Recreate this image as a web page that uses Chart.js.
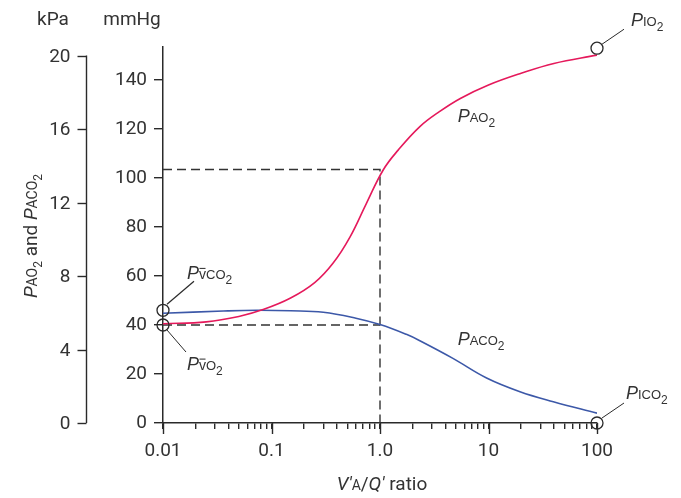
<!DOCTYPE html>
<html>
<head>
<meta charset="utf-8">
<script src="https://cdn.jsdelivr.net/npm/chart.js@4.4.1/dist/chart.umd.min.js"></script>
<style>
html,body{margin:0;padding:0;background:#fff;}
#wrap{width:681px;height:498px;}
</style>
</head>
<body>
<div id="wrap"><canvas id="chart" width="681" height="498"></canvas></div>
<script>
// values (x = V'A/Q' ratio, y = mmHg)
const ratioPao2 = [0.01, 0.025, 0.05, 0.085, 0.15, 0.25, 0.37, 0.53, 0.75, 1.07, 1.47, 2.33, 3.5, 5.5, 10, 20, 40, 100];
const pao2 = [40.5, 41.3, 43.5, 46.4, 51, 57.3, 65.3, 76, 89.7, 103.3, 111.4, 121, 127, 132.5, 138, 142.8, 146.8, 150.2];

const ratioPaco2 = [0.01, 0.036, 0.073, 0.15, 0.3, 0.6, 1.0, 1.75, 2.33, 4.7, 9.6, 19.5, 39.6, 100];
const paco2 = [44.8, 45.7, 46, 45.8, 45.2, 42.8, 40.2, 36.2, 33.6, 26.4, 18.4, 12.8, 8.7, 4];

// end points (mixed venous / inspired)
const pointNames = ['PvCO2', 'PvO2', 'PIO2', 'PICO2'];
const pointRatio = [0.01, 0.01, 100, 100];
const pointP = [46, 40, 153, 0];

// dashed guides at V'A/Q' = 1
const guideRatio = 1.0;
const guidePao2 = 103.5;
const guidePaco2 = 40;

// axes
const xTickValues = [0.01, 0.1, 1, 10, 100];
const xTickLabels = ['0.01', '0.1', '1.0', '10', '100'];
const kpaTicks = [0, 4, 8, 12, 16, 20];
const mmHgPerKpa = 7.50062;

const RED = '#e5195b';
const BLUE = '#3c58a8';
const INK = '#2a2a2a';
const TXT = '#333333';
const FONT = 'Roboto, "Noto Sans", sans-serif';
const LFONT = '"Liberation Sans", Arial, sans-serif';

function fnt(p, fam){
  return (p[2] ? 'italic ' : '') + p[1] + 'px ' + (fam || LFONT);
}

// draws a run of text pieces [text, size, italic, dy, overbar]
function rich(ctx, parts, x, y, align, fam){
  let w = 0;
  parts.forEach(p => { ctx.font = fnt(p, fam); w += ctx.measureText(p[0]).width; });
  let cx = align === 'center' ? x - w / 2 : x;
  parts.forEach(p => {
    ctx.font = fnt(p, fam);
    const pw = ctx.measureText(p[0]).width;
    ctx.fillText(p[0], cx, y + (p[3] || 0));
    if (p[4]) {
      ctx.beginPath();
      ctx.lineWidth = 1;
      ctx.moveTo(cx + 0.5, y - p[1] * 0.78);
      ctx.lineTo(cx + pw - 0.5, y - p[1] * 0.78);
      ctx.stroke();
    }
    cx += pw;
  });
}

function line(ctx, x1, y1, x2, y2){
  ctx.beginPath();
  ctx.moveTo(x1, y1);
  ctx.lineTo(x2, y2);
  ctx.stroke();
}

const labelParts = {
  PvCO2: [['P', 18, true], ['v', 14, false, 0, true], ['CO', 13], ['2', 12, false, 5]],
  PvO2: [['P', 18, true], ['v', 14, false, 0, true], ['O', 13], ['2', 12, false, 5]],
  PIO2: [['P', 18, true], ['IO', 13], ['2', 12, false, 5]],
  PICO2: [['P', 18, true], ['ICO', 13], ['2', 12, false, 5]]
};
// leader line and label offsets from each circle, px
const labelOffsets = {
  PvCO2: {l: [4, -6, 31, -29], t: [24, -31]},
  PvO2: {l: [4, 5, 23, 27], t: [24, 45]},
  PIO2: {l: [5, -4, 27, -19], t: [34, -22]},
  PICO2: {l: [5, -5, 27, -20], t: [29, -24]}
};

const extras = {
  id: 'extras',
  afterDraw(chart){
    const ctx = chart.ctx;
    const xs = chart.scales.x;
    const ys = chart.scales.y;
    ctx.save();
    ctx.strokeStyle = INK;
    ctx.fillStyle = TXT;
    ctx.lineWidth = 1.4;

    // longer ticks at decades
    xTickValues.forEach(v => {
      const px = Math.round(xs.getPixelForValue(v)) + 0.5;
      line(ctx, px, ys.bottom, px, ys.bottom + 11);
    });

    // kPa axis
    const kx = 86.5;
    line(ctx, kx, ys.getPixelForValue(0), kx, ys.getPixelForValue(20 * mmHgPerKpa));
    ctx.font = '19px ' + FONT;
    ctx.textAlign = 'right';
    ctx.textBaseline = 'middle';
    kpaTicks.forEach(k => {
      const py = Math.round(ys.getPixelForValue(k * mmHgPerKpa)) + 0.5;
      line(ctx, kx - 9, py, kx, py);
      ctx.fillText(String(k), kx - 16, py + 1);
    });

    // unit captions
    ctx.textAlign = 'center';
    ctx.textBaseline = 'alphabetic';
    ctx.fillText('kPa', 53, 25);
    ctx.fillText('mmHg', 132, 25);

    // circle labels
    ctx.textAlign = 'left';
    ctx.lineWidth = 1.2;
    pointNames.forEach((n, i) => {
      const cx = xs.getPixelForValue(pointRatio[i]);
      const cy = ys.getPixelForValue(pointP[i]);
      const o = labelOffsets[n];
      line(ctx, cx + o.l[0], cy + o.l[1], cx + o.l[2], cy + o.l[3]);
      rich(ctx, labelParts[n], cx + o.t[0], cy + o.t[1], 'left');
    });

    // curve labels
    rich(ctx, [['P', 18, true], ['AO', 13], ['2', 12, false, 5]],
      xs.getPixelForValue(5.2), ys.getPixelForValue(123), 'left');
    rich(ctx, [['P', 18, true], ['ACO', 13], ['2', 12, false, 5]],
      xs.getPixelForValue(5.2), ys.getPixelForValue(31.8), 'left');

    // axis titles
    rich(ctx, [['V\u2032', 19, true], ['A', 14], ['/', 19], ['Q\u2032', 19, true], [' ratio', 19]],
      (xs.left + xs.right) / 2 + 2, 490, 'center', FONT);

    ctx.translate(37, 236);
    ctx.rotate(-Math.PI / 2);
    rich(ctx, [['P', 19, true], ['AO', 14], ['2', 12, false, 5], [' and ', 19], ['P', 19, true], ['ACO', 14], ['2', 12, false, 5]],
      0, 0, 'center', FONT);
    ctx.restore();
  }
};

const xy = (xsArr, ysArr) => xsArr.map((v, i) => ({x: v, y: ysArr[i]}));

new Chart(document.getElementById('chart'), {
  type: 'line',
  data: {
    datasets: [
      {
        label: 'end points',
        data: xy(pointRatio, pointP),
        showLine: false,
        pointStyle: 'circle',
        pointRadius: 6,
        pointBorderWidth: 1.3,
        pointBorderColor: INK,
        pointBackgroundColor: 'rgba(0,0,0,0)',
        clip: false,
        order: 0
      },
      {
        label: 'PAO2',
        data: xy(ratioPao2, pao2),
        borderColor: RED,
        borderWidth: 1.6,
        pointRadius: 0,
        tension: 0.4,
        fill: false,
        order: 1
      },
      {
        label: 'PACO2',
        data: xy(ratioPaco2, paco2),
        borderColor: BLUE,
        borderWidth: 1.6,
        pointRadius: 0,
        tension: 0.4,
        fill: false,
        order: 2
      },
      {
        label: 'guide high',
        data: [{x: pointRatio[0], y: guidePao2}, {x: guideRatio, y: guidePao2}, {x: guideRatio, y: 0}],
        borderColor: '#333',
        borderWidth: 1.4,
        borderDash: [9, 5],
        pointRadius: 0,
        tension: 0,
        order: 3
      },
      {
        label: 'guide low',
        data: [{x: pointRatio[0], y: guidePaco2}, {x: guideRatio, y: guidePaco2}],
        borderColor: '#333',
        borderWidth: 1.4,
        borderDash: [9, 5],
        pointRadius: 0,
        tension: 0,
        order: 4
      }
    ]
  },
  options: {
    responsive: false,
    devicePixelRatio: 1,
    animation: false,
    events: [],
    layout: {padding: {top: 47, right: 84, left: 0, bottom: 0}},
    plugins: {legend: {display: false}, tooltip: {enabled: false}},
    scales: {
      x: {
        type: 'logarithmic',
        min: 0.01,
        max: 100,
        afterFit(s){ s.height = 75; },
        afterBuildTicks(s){
          const t = [];
          for (let d = 0.01; d < 100; d *= 10) {
            for (let m = 1; m < 10; m++) t.push({value: +(d * m).toPrecision(3)});
          }
          t.push({value: 100});
          s.ticks = t;
        },
        ticks: {
          autoSkip: false,
          maxRotation: 0,
          padding: 11,
          color: TXT,
          font: {family: FONT, size: 19},
          callback(v){
            const i = xTickValues.findIndex(d => Math.abs(d - v) / d < 1e-6);
            return i >= 0 ? xTickLabels[i] : '';
          }
        },
        grid: {display: true, drawOnChartArea: false, drawTicks: true, tickLength: 6, color: INK, lineWidth: 1.4},
        border: {display: true, color: INK, width: 1.5}
      },
      y: {
        type: 'linear',
        min: 0,
        max: 153.5,
        afterFit(s){ s.width = 163; },
        ticks: {
          stepSize: 20,
          includeBounds: false,
          padding: 7,
          color: TXT,
          font: {family: FONT, size: 19}
        },
        grid: {display: true, drawOnChartArea: false, drawTicks: true, tickLength: 9, color: INK, lineWidth: 1.4},
        border: {display: true, color: INK, width: 1.5}
      }
    }
  },
  plugins: [extras]
});
</script>
</body>
</html>
